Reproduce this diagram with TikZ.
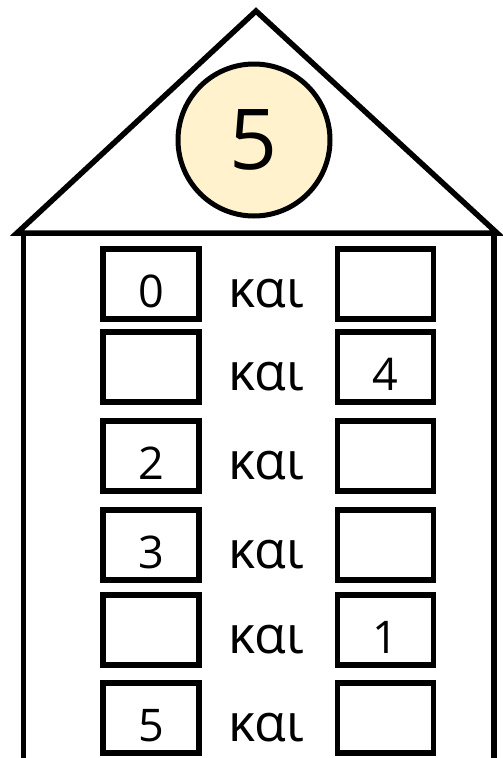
\documentclass[tikz,border=0pt]{standalone}
\usepackage{fontspec}
\setmainfont{Open Sans}
\definecolor{circfill}{RGB}{255,242,204}
\tikzset{
  house/.style={line width=5.5pt, line join=miter, draw=black},
  numbox/.style={draw=black, line width=5.5pt, minimum width=96pt, minimum height=70pt, inner sep=0pt},
  digit/.style={font=\fontsize{45}{45}\selectfont, anchor=base, inner sep=0pt},
  kai/.style={font=\fontsize{52}{52}\selectfont, anchor=base, inner sep=0pt},
  bignum/.style={circle, draw=black, line width=5pt, fill=circfill, minimum size=152pt, inner sep=0pt, font=\fontsize{84}{84}\selectfont}
}
\begin{document}
\begin{tikzpicture}[x=1pt,y=-1pt]
\useasboundingbox (0,0) rectangle (503,758);
\fill[white] (0,0) rectangle (503,758);
% roof
\coordinate (rl) at (17,233);
\coordinate (ra) at (256,11);
\coordinate (rr) at (497,233);
\draw[house] (rl) -- (ra) -- (rr) -- cycle;
% walls
\coordinate (wl) at (23.5,233);
\coordinate (wlb) at (23.5,765);
\coordinate (wr) at (494,233);
\coordinate (wrb) at (494,765);
\draw[house] (wl) -- (wlb);
\draw[house] (wr) -- (wrb);
% circle
\node[bignum] (top) at (254,140) {5};
% rows
\foreach \y/\a/\b [count=\i] in {284/0/, 367//4, 456/2/, 545/3/, 630//1, 718/5/} {
  \node[numbox] (L\i) at (151,\y) {};
  \node[numbox] (R\i) at (385.5,\y) {};
  \node[digit] (Ld\i) at (151,\y+23) {\a};
  \node[digit] (Rd\i) at (385.5,\y+23) {\b};
  \node[kai] (K\i) at (266,\y+23) {και};
}
\end{tikzpicture}
\end{document}
